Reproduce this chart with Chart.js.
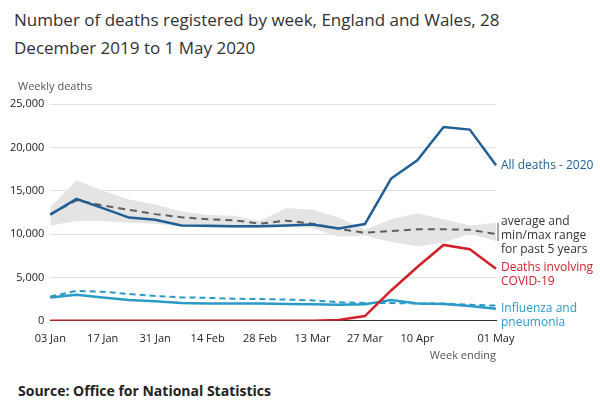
<!DOCTYPE html>
<html>
<head>
<meta charset="utf-8">
<script src="https://cdn.jsdelivr.net/npm/chart.js@4"></script>
<style>
  body { margin: 0; background: #fff; font-family: "Open Sans", sans-serif; }
  #title { position: absolute; left: 14px; top: 6px; width: 520px; font-size: 17px; line-height: 28px; color: #323132; }
  #source { position: absolute; left: 18px; top: 381px; font-size: 14px; font-weight: bold; color: #222; }
  #wrap { position: absolute; left: 0; top: 74px; width: 600px; height: 290px; }
</style>
</head>
<body>
<div id="title">Number of deaths registered by week, England and Wales, 28 December 2019 to 1 May 2020</div>
<div id="wrap"><canvas id="c"></canvas></div>
<div id="source">Source: Office for National Statistics</div>
<script>
// weeks ending
const weeks = ['03 Jan','10 Jan','17 Jan','24 Jan','31 Jan','07 Feb','14 Feb','21 Feb','28 Feb','06 Mar','13 Mar','20 Mar','27 Mar','03 Apr','10 Apr','17 Apr','24 Apr','01 May'];
const shownTicks = [0, 2, 4, 6, 8, 10, 12, 14, 17];

const allDeaths = [12250, 14050, 13000, 11900, 11650, 11000, 10950, 10900, 10900, 11000, 11100, 10650, 11150, 16400, 18500, 22350, 22050, 17950];
const avg5yr = [12300, 13900, 13300, 12800, 12300, 11950, 11700, 11600, 11200, 11550, 11200, 10600, 10150, 10350, 10550, 10550, 10500, 10000];
const min5yr = [11000, 11500, 11500, 11300, 11200, 10900, 10700, 10700, 10700, 10800, 10700, 9700, 9800, 9100, 8600, 9000, 10000, 9200];
const max5yr = [13100, 16200, 15000, 14000, 13400, 12600, 12200, 12100, 11500, 13000, 12800, 11900, 10500, 11700, 12400, 11700, 11000, 11300];
const covid = [0, 0, 0, 0, 0, 0, 0, 0, 0, 0, 0, 100, 550, 3500, 6200, 8750, 8250, 6000];
const flu2020 = [2700, 3000, 2700, 2400, 2250, 2050, 2000, 2000, 2000, 1950, 1900, 1850, 1900, 2400, 2000, 1950, 1700, 1400];
const fluAvg = [2800, 3450, 3350, 3100, 2850, 2700, 2650, 2550, 2500, 2450, 2350, 2150, 2050, 2050, 2000, 2000, 1850, 1750];

const blue = '#206095', red = '#d0222a', teal = '#2a9bc7', grey = '#5f5f5f';

// right-hand labels and axis captions
const labelsPlugin = {
  id: 'labels',
  afterDraw(chart) {
    const ctx = chart.ctx, x = chart.scales.x, y = chart.scales.y;
    const lx = x.getPixelForValue(17) + 5;
    ctx.save();
    ctx.font = '12px "Open Sans"';
    ctx.textBaseline = 'middle';
    const put = (lines, v, color) => {
      const yy = y.getPixelForValue(v);
      ctx.fillStyle = color;
      lines.forEach((t, i) => ctx.fillText(t, lx, yy + i * 14));
    };
    put(['All deaths - 2020'], allDeaths[17], blue);
    put(['average and', 'min/max range', 'for past 5 years'], 11400, '#333');
    put(['Deaths involving', 'COVID-19'], 6100, red);
    put(['Influenza and', 'pneumonia'], 1400, teal);
    ctx.strokeStyle = '#555';
    ctx.beginPath();
    ctx.moveTo(lx - 3, y.getPixelForValue(max5yr[17]));
    ctx.lineTo(lx - 3, y.getPixelForValue(min5yr[17]));
    ctx.stroke();
    ctx.fillStyle = '#555';
    ctx.font = '11px "Open Sans"';
    ctx.textAlign = 'left';
    ctx.fillText('Weekly deaths', 18, y.top - 17);
    ctx.textAlign = 'right';
    ctx.fillText('Week ending', x.right, x.bottom + 8);
    ctx.restore();
  }
};

new Chart(document.getElementById('c'), {
  type: 'line',
  data: {
    labels: weeks,
    datasets: [
      { data: allDeaths, borderColor: blue, borderWidth: 2.5, pointRadius: 0 },
      { data: covid, borderColor: red, borderWidth: 2.5, pointRadius: 0 },
      { data: flu2020, borderColor: teal, borderWidth: 2.5, pointRadius: 0 },
      { data: fluAvg, borderColor: teal, borderWidth: 2, borderDash: [6, 4], pointRadius: 0 },
      { data: avg5yr, borderColor: grey, borderWidth: 2, borderDash: [7, 5], pointRadius: 0 },
      { data: min5yr, borderWidth: 0, fill: false, pointRadius: 0 },
      { data: max5yr, borderWidth: 0, backgroundColor: '#e4e4e4', fill: '-1', pointRadius: 0 }
    ]
  },
  options: {
    responsive: true,
    maintainAspectRatio: false,
    animation: false,
    layout: { padding: { top: 30, right: 104, left: 4, bottom: 16 } },
    plugins: { legend: { display: false }, tooltip: { enabled: false } },
    scales: {
      x: {
        grid: { display: false },
        border: { color: '#333' },
        ticks: {
          autoSkip: false, maxRotation: 0, color: '#222', font: { size: 11, family: 'Open Sans' },
          callback: (v, i) => shownTicks.includes(i) ? weeks[i] : ''
        }
      },
      y: {
        min: 0, max: 25000,
        grid: { color: '#e0e0e0', drawTicks: false },
        border: { display: false },
        ticks: { stepSize: 5000, padding: 6, color: '#222', font: { size: 11, family: 'Open Sans' },
          callback: v => v.toLocaleString('en-GB') }
      }
    }
  },
  plugins: [labelsPlugin]
});
</script>
</body>
</html>
